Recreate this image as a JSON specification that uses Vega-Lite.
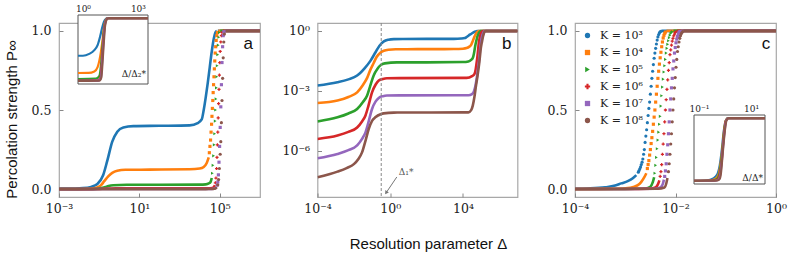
{
"$schema":"https://vega.github.io/schema/vega-lite/v6.json",
"padding":{"left":3,"top":3,"right":3,"bottom":3},
"config":{
 "view":{"stroke":"#a8a8a8","strokeWidth":1.2},
 "scale":{"nice":false,"zero":false},
 "axis":{"labelFont":"DejaVu Serif","labelFontSize":12.5,"labelColor":"#222","tickColor":"#888","tickSize":-4,"tickWidth":1,"domain":false,"grid":false,"labelFlush":false,"labelOverlap":false,"titleFont":"Liberation Sans","titleFontSize":15,"titleFontWeight":"normal","titleColor":"#111"},
 "axisX":{"labelPadding":9},
 "axisY":{"labelPadding":12}
},
"datasets":{
"ab":[
{"k":3,"d":1e-4,"p":0.00186,"s":"l"},{"k":3,"d":1.259e-3,"p":0.0027,"s":"l"},{"k":3,"d":5.012e-3,"p":0.0038,"s":"l"},{"k":3,"d":1.514e-2,"p":0.0059,"s":"l"},{"k":3,"d":3.981e-2,"p":0.014,"s":"l"},{"k":3,"d":8.128e-2,"p":0.032,"s":"l"},{"k":3,"d":0.1585,"p":0.089,"s":"l"},{"k":3,"d":0.2512,"p":0.178,"s":"l"},{"k":3,"d":0.4467,"p":0.30,"s":"l"},{"k":3,"d":0.7943,"p":0.363,"s":"l"},{"k":3,"d":1.585,"p":0.39,"s":"l"},{"k":3,"d":5.012,"p":0.398,"s":"l"},{"k":3,"d":100,"p":0.40,"s":"l"},{"k":3,"d":3162,"p":0.403,"s":"l"},{"k":3,"d":7943,"p":0.417,"s":"l"},{"k":3,"d":12590,"p":0.44,"s":"l"},{"k":3,"d":15850,"p":0.5,"s":"l"},{"k":3,"d":19950,"p":0.58,"s":"l"},{"k":3,"d":25120,"p":0.67,"s":"l"},{"k":3,"d":31620,"p":0.77,"s":"l"},{"k":3,"d":39810,"p":0.87,"s":"l"},{"k":3,"d":50120,"p":0.95,"s":"l"},{"k":3,"d":60260,"p":0.99,"s":"l"},{"k":3,"d":70790,"p":1.0,"s":"l"},{"k":3,"d":79430,"p":1,"s":"h"},{"k":3,"d":1e7,"p":1,"s":"h"},
{"k":4,"d":1e-4,"p":2.5e-4,"s":"l"},{"k":4,"d":1.259e-3,"p":3.3e-4,"s":"l"},{"k":4,"d":5.012e-3,"p":5e-4,"s":"l"},{"k":4,"d":1.514e-2,"p":8.5e-4,"s":"l"},{"k":4,"d":3.162e-2,"p":0.002,"s":"l"},{"k":4,"d":5.370e-2,"p":0.0045,"s":"l"},{"k":4,"d":7.943e-2,"p":0.011,"s":"l"},{"k":4,"d":0.1230,"p":0.025,"s":"l"},{"k":4,"d":0.1778,"p":0.05,"s":"l"},{"k":4,"d":0.2884,"p":0.082,"s":"l"},{"k":4,"d":0.4467,"p":0.103,"s":"l"},{"k":4,"d":0.7943,"p":0.116,"s":"l"},{"k":4,"d":1.995,"p":0.122,"s":"l"},{"k":4,"d":31.62,"p":0.123,"s":"l"},{"k":4,"d":3162,"p":0.125,"s":"l"},{"k":4,"d":10000,"p":0.13,"s":"l"},{"k":4,"d":15850,"p":0.14,"s":"l"},{"k":4,"d":22390,"p":0.165,"s":"l"},{"k":4,"d":28180,"p":0.2,"s":"l"},
{"k":4,"d":30200,"p":0.23,"s":"s"},{"k":4,"d":32360,"p":0.27,"s":"s"},{"k":4,"d":34670,"p":0.31,"s":"s"},{"k":4,"d":36730,"p":0.36,"s":"s"},{"k":4,"d":38900,"p":0.41,"s":"s"},{"k":4,"d":40740,"p":0.46,"s":"s"},{"k":4,"d":42660,"p":0.51,"s":"s"},{"k":4,"d":44670,"p":0.56,"s":"s"},{"k":4,"d":46770,"p":0.61,"s":"s"},{"k":4,"d":48980,"p":0.66,"s":"s"},{"k":4,"d":51290,"p":0.71,"s":"s"},{"k":4,"d":53700,"p":0.76,"s":"s"},{"k":4,"d":56230,"p":0.81,"s":"s"},{"k":4,"d":58880,"p":0.86,"s":"s"},{"k":4,"d":62370,"p":0.9,"s":"s"},{"k":4,"d":66070,"p":0.94,"s":"s"},{"k":4,"d":70790,"p":0.97,"s":"s"},{"k":4,"d":75860,"p":0.99,"s":"s"},
{"k":4,"d":83180,"p":1,"s":"h"},{"k":4,"d":1e7,"p":1,"s":"h"},
{"k":5,"d":1e-4,"p":3e-5,"s":"l"},{"k":5,"d":1.259e-3,"p":4.8e-5,"s":"l"},{"k":5,"d":5.012e-3,"p":7.5e-5,"s":"l"},{"k":5,"d":1.514e-2,"p":1.26e-4,"s":"l"},{"k":5,"d":3.162e-2,"p":2.8e-4,"s":"l"},{"k":5,"d":5.370e-2,"p":6e-4,"s":"l"},{"k":5,"d":7.943e-2,"p":0.0018,"s":"l"},{"k":5,"d":0.1230,"p":0.006,"s":"l"},{"k":5,"d":0.1995,"p":0.013,"s":"l"},{"k":5,"d":0.2884,"p":0.019,"s":"l"},{"k":5,"d":0.5012,"p":0.024,"s":"l"},{"k":5,"d":2.344,"p":0.027,"s":"l"},{"k":5,"d":100,"p":0.027,"s":"l"},{"k":5,"d":10000,"p":0.028,"s":"l"},{"k":5,"d":19950,"p":0.03,"s":"l"},{"k":5,"d":28180,"p":0.036,"s":"l"},{"k":5,"d":34670,"p":0.045,"s":"l"},{"k":5,"d":39810,"p":0.07,"s":"l"},
{"k":5,"d":42660,"p":0.1,"s":"s"},{"k":5,"d":45710,"p":0.15,"s":"s"},{"k":5,"d":48980,"p":0.21,"s":"s"},{"k":5,"d":52480,"p":0.28,"s":"s"},{"k":5,"d":55590,"p":0.35,"s":"s"},{"k":5,"d":58880,"p":0.43,"s":"s"},{"k":5,"d":61660,"p":0.5,"s":"s"},{"k":5,"d":64570,"p":0.57,"s":"s"},{"k":5,"d":67610,"p":0.64,"s":"s"},{"k":5,"d":70790,"p":0.71,"s":"s"},{"k":5,"d":74130,"p":0.78,"s":"s"},{"k":5,"d":78520,"p":0.85,"s":"s"},{"k":5,"d":83180,"p":0.91,"s":"s"},{"k":5,"d":89130,"p":0.96,"s":"s"},{"k":5,"d":95500,"p":0.99,"s":"s"},
{"k":5,"d":104700,"p":1,"s":"h"},{"k":5,"d":1e7,"p":1,"s":"h"},
{"k":6,"d":1e-4,"p":4e-6,"s":"l"},{"k":6,"d":1.259e-3,"p":5.9e-6,"s":"l"},{"k":6,"d":5.012e-3,"p":9e-6,"s":"l"},{"k":6,"d":1.514e-2,"p":1.5e-5,"s":"l"},{"k":6,"d":2.818e-2,"p":3e-5,"s":"l"},{"k":6,"d":4.365e-2,"p":6e-5,"s":"l"},{"k":6,"d":6.310e-2,"p":1.8e-4,"s":"l"},{"k":6,"d":0.1,"p":8.5e-4,"s":"l"},{"k":6,"d":0.1585,"p":0.0021,"s":"l"},{"k":6,"d":0.2344,"p":0.0033,"s":"l"},{"k":6,"d":0.3981,"p":0.004,"s":"l"},{"k":6,"d":0.6607,"p":0.0043,"s":"l"},{"k":6,"d":3.162,"p":0.0044,"s":"l"},{"k":6,"d":15850,"p":0.0045,"s":"l"},{"k":6,"d":31620,"p":0.0055,"s":"l"},{"k":6,"d":42660,"p":0.007,"s":"l"},{"k":6,"d":50120,"p":0.012,"s":"l"},{"k":6,"d":56230,"p":0.025,"s":"l"},
{"k":6,"d":60260,"p":0.04,"s":"s"},{"k":6,"d":64570,"p":0.07,"s":"s"},{"k":6,"d":69180,"p":0.13,"s":"s"},{"k":6,"d":72440,"p":0.2,"s":"s"},{"k":6,"d":75860,"p":0.28,"s":"s"},{"k":6,"d":79430,"p":0.36,"s":"s"},{"k":6,"d":83180,"p":0.45,"s":"s"},{"k":6,"d":87100,"p":0.54,"s":"s"},{"k":6,"d":91200,"p":0.63,"s":"s"},{"k":6,"d":95500,"p":0.72,"s":"s"},{"k":6,"d":100000,"p":0.8,"s":"s"},{"k":6,"d":104700,"p":0.87,"s":"s"},{"k":6,"d":112200,"p":0.93,"s":"s"},{"k":6,"d":120200,"p":0.97,"s":"s"},{"k":6,"d":128800,"p":0.99,"s":"s"},
{"k":6,"d":141300,"p":1,"s":"h"},{"k":6,"d":1e7,"p":1,"s":"h"},
{"k":7,"d":1e-4,"p":4.3e-7,"s":"l"},{"k":7,"d":1.259e-3,"p":7.1e-7,"s":"l"},{"k":7,"d":5.012e-3,"p":1.1e-6,"s":"l"},{"k":7,"d":1.514e-2,"p":1.9e-6,"s":"l"},{"k":7,"d":2.818e-2,"p":4e-6,"s":"l"},{"k":7,"d":4.365e-2,"p":8.5e-6,"s":"l"},{"k":7,"d":6.310e-2,"p":2.7e-5,"s":"l"},{"k":7,"d":0.1,"p":1.26e-4,"s":"l"},{"k":7,"d":0.1585,"p":3e-4,"s":"l"},{"k":7,"d":0.2344,"p":4.5e-4,"s":"l"},{"k":7,"d":0.3981,"p":5.5e-4,"s":"l"},{"k":7,"d":0.6607,"p":5.9e-4,"s":"l"},{"k":7,"d":3.162,"p":6e-4,"s":"l"},{"k":7,"d":19950,"p":6.1e-4,"s":"l"},{"k":7,"d":31620,"p":7e-4,"s":"l"},{"k":7,"d":48980,"p":0.0019,"s":"l"},{"k":7,"d":60260,"p":0.006,"s":"l"},{"k":7,"d":66070,"p":0.012,"s":"l"},
{"k":7,"d":74130,"p":0.025,"s":"s"},{"k":7,"d":79430,"p":0.045,"s":"s"},{"k":7,"d":85110,"p":0.09,"s":"s"},{"k":7,"d":91200,"p":0.17,"s":"s"},{"k":7,"d":97720,"p":0.27,"s":"s"},{"k":7,"d":104700,"p":0.39,"s":"s"},{"k":7,"d":112200,"p":0.52,"s":"s"},{"k":7,"d":120200,"p":0.66,"s":"s"},{"k":7,"d":128800,"p":0.8,"s":"s"},{"k":7,"d":138000,"p":0.9,"s":"s"},{"k":7,"d":147900,"p":0.97,"s":"s"},{"k":7,"d":158500,"p":0.995,"s":"s"},
{"k":7,"d":173800,"p":1,"s":"h"},{"k":7,"d":1e7,"p":1,"s":"h"},
{"k":8,"d":1e-4,"p":4.8e-8,"s":"l"},{"k":8,"d":1.259e-3,"p":9.3e-8,"s":"l"},{"k":8,"d":3.981e-3,"p":1.4e-7,"s":"l"},{"k":8,"d":0.01,"p":2.2e-7,"s":"l"},{"k":8,"d":1.778e-2,"p":4e-7,"s":"l"},{"k":8,"d":2.818e-2,"p":8.5e-7,"s":"l"},{"k":8,"d":4.467e-2,"p":3.5e-6,"s":"l"},{"k":8,"d":6.607e-2,"p":1.26e-5,"s":"l"},{"k":8,"d":0.1,"p":3.2e-5,"s":"l"},{"k":8,"d":0.1514,"p":4.8e-5,"s":"l"},{"k":8,"d":0.3162,"p":7e-5,"s":"l"},{"k":8,"d":0.4365,"p":7.6e-5,"s":"l"},{"k":8,"d":1.549,"p":8.3e-5,"s":"l"},{"k":8,"d":19950,"p":8.5e-5,"s":"l"},{"k":8,"d":28180,"p":1.1e-4,"s":"l"},{"k":8,"d":34670,"p":1.86e-4,"s":"l"},{"k":8,"d":42660,"p":5e-4,"s":"l"},{"k":8,"d":52480,"p":0.0019,"s":"l"},{"k":8,"d":63100,"p":0.0055,"s":"l"},{"k":8,"d":70790,"p":0.012,"s":"l"},
{"k":8,"d":79430,"p":0.027,"s":"s"},{"k":8,"d":87100,"p":0.06,"s":"s"},{"k":8,"d":95500,"p":0.13,"s":"s"},{"k":8,"d":104700,"p":0.22,"s":"s"},{"k":8,"d":112200,"p":0.3,"s":"s"},{"k":8,"d":120200,"p":0.42,"s":"s"},{"k":8,"d":128800,"p":0.56,"s":"s"},{"k":8,"d":138000,"p":0.7,"s":"s"},{"k":8,"d":147900,"p":0.83,"s":"s"},{"k":8,"d":158500,"p":0.93,"s":"s"},{"k":8,"d":169800,"p":0.98,"s":"s"},
{"k":8,"d":186200,"p":1,"s":"h"},{"k":8,"d":1e7,"p":1,"s":"h"}
],
"ai":[
{"k":3,"d":0.537,"p":0.40},{"k":3,"d":1,"p":0.40},{"k":3,"d":2.188,"p":0.43},{"k":3,"d":4.169,"p":0.49},{"k":3,"d":6.310,"p":0.57},{"k":3,"d":8.710,"p":0.71},{"k":3,"d":11.75,"p":0.87},{"k":3,"d":15.85,"p":0.97},{"k":3,"d":22.39,"p":1.0},{"k":3,"d":3548,"p":1.0},
{"k":4,"d":0.537,"p":0.125},{"k":4,"d":1.995,"p":0.127},{"k":4,"d":4.169,"p":0.15},{"k":4,"d":6.310,"p":0.22},{"k":4,"d":8.710,"p":0.39},{"k":4,"d":11.75,"p":0.65},{"k":4,"d":14.45,"p":0.87},{"k":4,"d":19.50,"p":0.99},{"k":4,"d":25.12,"p":1.0},{"k":4,"d":3548,"p":1.0},
{"k":5,"d":0.537,"p":0.03},{"k":5,"d":5.012,"p":0.035},{"k":5,"d":7.943,"p":0.08},{"k":5,"d":10,"p":0.3},{"k":5,"d":12.02,"p":0.6},{"k":5,"d":14.45,"p":0.85},{"k":5,"d":17.78,"p":0.97},{"k":5,"d":22.39,"p":1.0},{"k":5,"d":3548,"p":1},
{"k":6,"d":0.537,"p":0.006},{"k":6,"d":6.310,"p":0.008},{"k":6,"d":8.913,"p":0.05},{"k":6,"d":10.72,"p":0.3},{"k":6,"d":12.59,"p":0.6},{"k":6,"d":14.79,"p":0.85},{"k":6,"d":18.20,"p":0.97},{"k":6,"d":22.91,"p":1.0},{"k":6,"d":3548,"p":1},
{"k":7,"d":0.537,"p":0.002},{"k":7,"d":7.079,"p":0.004},{"k":7,"d":9.550,"p":0.05},{"k":7,"d":11.22,"p":0.3},{"k":7,"d":13.18,"p":0.62},{"k":7,"d":15.49,"p":0.87},{"k":7,"d":19.05,"p":0.98},{"k":7,"d":23.99,"p":1.0},{"k":7,"d":3548,"p":1},
{"k":8,"d":0.537,"p":0},{"k":8,"d":7.943,"p":0.002},{"k":8,"d":10,"p":0.05},{"k":8,"d":11.75,"p":0.3},{"k":8,"d":13.80,"p":0.62},{"k":8,"d":16.22,"p":0.88},{"k":8,"d":19.95,"p":0.98},{"k":8,"d":25.12,"p":1.0},{"k":8,"d":3548,"p":1}
],
"c":[
{"k":3,"d":1e-4,"p":0.002,"s":"l"},{"k":3,"d":1.778e-4,"p":0.004,"s":"l"},{"k":3,"d":3.981e-4,"p":0.011,"s":"l"},{"k":3,"d":6.310e-4,"p":0.022,"s":"l"},{"k":3,"d":8.318e-4,"p":0.036,"s":"l"},{"k":3,"d":1.122e-3,"p":0.05,"s":"l"},{"k":3,"d":1.413e-3,"p":0.068,"s":"l"},{"k":3,"d":1.660e-3,"p":0.088,"s":"l"},
{"k":3,"d":1.820e-3,"p":0.107,"s":"s"},{"k":3,"d":1.884e-3,"p":0.117,"s":"s"},{"k":3,"d":1.950e-3,"p":0.128,"s":"s"},{"k":3,"d":2.018e-3,"p":0.14,"s":"s"},{"k":3,"d":2.089e-3,"p":0.155,"s":"s"},{"k":3,"d":2.163e-3,"p":0.17,"s":"s"},{"k":3,"d":2.239e-3,"p":0.19,"s":"s"},{"k":3,"d":2.317e-3,"p":0.22,"s":"s"},{"k":3,"d":2.399e-3,"p":0.25,"s":"s"},{"k":3,"d":2.483e-3,"p":0.295,"s":"s"},{"k":3,"d":2.570e-3,"p":0.335,"s":"s"},{"k":3,"d":2.661e-3,"p":0.375,"s":"s"},{"k":3,"d":2.754e-3,"p":0.42,"s":"s"},{"k":3,"d":2.851e-3,"p":0.465,"s":"s"},{"k":3,"d":2.951e-3,"p":0.51,"s":"s"},{"k":3,"d":3.055e-3,"p":0.55,"s":"s"},{"k":3,"d":3.162e-3,"p":0.6,"s":"s"},{"k":3,"d":3.273e-3,"p":0.65,"s":"s"},{"k":3,"d":3.388e-3,"p":0.7,"s":"s"},{"k":3,"d":3.508e-3,"p":0.745,"s":"s"},{"k":3,"d":3.631e-3,"p":0.787,"s":"s"},{"k":3,"d":3.758e-3,"p":0.827,"s":"s"},{"k":3,"d":3.890e-3,"p":0.86,"s":"s"},{"k":3,"d":4.027e-3,"p":0.89,"s":"s"},{"k":3,"d":4.169e-3,"p":0.917,"s":"s"},{"k":3,"d":4.315e-3,"p":0.942,"s":"s"},{"k":3,"d":4.467e-3,"p":0.962,"s":"s"},{"k":3,"d":4.624e-3,"p":0.977,"s":"s"},{"k":3,"d":4.786e-3,"p":0.988,"s":"s"},{"k":3,"d":4.955e-3,"p":0.994,"s":"s"},{"k":3,"d":5.129e-3,"p":0.998,"s":"s"},
{"k":3,"d":5.248e-3,"p":1,"s":"h"},{"k":3,"d":1,"p":1,"s":"h"},
{"k":4,"d":1e-4,"p":0.001,"s":"l"},{"k":4,"d":6.310e-4,"p":0.002,"s":"l"},{"k":4,"d":1.259e-3,"p":0.008,"s":"l"},{"k":4,"d":1.778e-3,"p":0.025,"s":"l"},{"k":4,"d":2.089e-3,"p":0.046,"s":"l"},{"k":4,"d":2.399e-3,"p":0.075,"s":"l"},{"k":4,"d":2.630e-3,"p":0.1,"s":"l"},
{"k":4,"d":2.754e-3,"p":0.13,"s":"s"},{"k":4,"d":2.851e-3,"p":0.155,"s":"s"},{"k":4,"d":2.951e-3,"p":0.18,"s":"s"},{"k":4,"d":3.055e-3,"p":0.215,"s":"s"},{"k":4,"d":3.162e-3,"p":0.25,"s":"s"},{"k":4,"d":3.273e-3,"p":0.288,"s":"s"},{"k":4,"d":3.388e-3,"p":0.325,"s":"s"},{"k":4,"d":3.508e-3,"p":0.365,"s":"s"},{"k":4,"d":3.631e-3,"p":0.41,"s":"s"},{"k":4,"d":3.758e-3,"p":0.455,"s":"s"},{"k":4,"d":3.890e-3,"p":0.5,"s":"s"},{"k":4,"d":4.027e-3,"p":0.55,"s":"s"},{"k":4,"d":4.169e-3,"p":0.6,"s":"s"},{"k":4,"d":4.315e-3,"p":0.65,"s":"s"},{"k":4,"d":4.467e-3,"p":0.7,"s":"s"},{"k":4,"d":4.624e-3,"p":0.745,"s":"s"},{"k":4,"d":4.786e-3,"p":0.79,"s":"s"},{"k":4,"d":4.955e-3,"p":0.83,"s":"s"},{"k":4,"d":5.129e-3,"p":0.865,"s":"s"},{"k":4,"d":5.309e-3,"p":0.9,"s":"s"},{"k":4,"d":5.495e-3,"p":0.93,"s":"s"},{"k":4,"d":5.689e-3,"p":0.955,"s":"s"},{"k":4,"d":5.888e-3,"p":0.972,"s":"s"},{"k":4,"d":6.095e-3,"p":0.985,"s":"s"},{"k":4,"d":6.310e-3,"p":0.993,"s":"s"},
{"k":4,"d":6.607e-3,"p":1,"s":"h"},{"k":4,"d":1,"p":1,"s":"h"},
{"k":5,"d":1e-4,"p":0.001,"s":"l"},{"k":5,"d":1e-3,"p":0.001,"s":"l"},{"k":5,"d":2.512e-3,"p":0.004,"s":"l"},{"k":5,"d":3.162e-3,"p":0.015,"s":"l"},{"k":5,"d":3.548e-3,"p":0.045,"s":"l"},{"k":5,"d":3.758e-3,"p":0.075,"s":"l"},
{"k":5,"d":3.890e-3,"p":0.1,"s":"s"},{"k":5,"d":4.027e-3,"p":0.15,"s":"s"},{"k":5,"d":4.169e-3,"p":0.2,"s":"s"},{"k":5,"d":4.315e-3,"p":0.255,"s":"s"},{"k":5,"d":4.467e-3,"p":0.31,"s":"s"},{"k":5,"d":4.624e-3,"p":0.36,"s":"s"},{"k":5,"d":4.786e-3,"p":0.41,"s":"s"},{"k":5,"d":4.955e-3,"p":0.46,"s":"s"},{"k":5,"d":5.129e-3,"p":0.525,"s":"s"},{"k":5,"d":5.309e-3,"p":0.59,"s":"s"},{"k":5,"d":5.495e-3,"p":0.645,"s":"s"},{"k":5,"d":5.689e-3,"p":0.695,"s":"s"},{"k":5,"d":5.888e-3,"p":0.74,"s":"s"},{"k":5,"d":6.095e-3,"p":0.78,"s":"s"},{"k":5,"d":6.310e-3,"p":0.82,"s":"s"},{"k":5,"d":6.531e-3,"p":0.86,"s":"s"},{"k":5,"d":6.761e-3,"p":0.89,"s":"s"},{"k":5,"d":6.998e-3,"p":0.915,"s":"s"},{"k":5,"d":7.244e-3,"p":0.938,"s":"s"},{"k":5,"d":7.499e-3,"p":0.957,"s":"s"},{"k":5,"d":7.762e-3,"p":0.972,"s":"s"},{"k":5,"d":8.035e-3,"p":0.983,"s":"s"},{"k":5,"d":8.318e-3,"p":0.99,"s":"s"},{"k":5,"d":8.610e-3,"p":0.995,"s":"s"},
{"k":5,"d":9.120e-3,"p":1,"s":"h"},{"k":5,"d":1,"p":1,"s":"h"},
{"k":6,"d":1e-4,"p":0.0005,"s":"l"},{"k":6,"d":1e-3,"p":0.001,"s":"l"},{"k":6,"d":3.162e-3,"p":0.003,"s":"l"},{"k":6,"d":3.981e-3,"p":0.01,"s":"l"},{"k":6,"d":4.467e-3,"p":0.03,"s":"l"},{"k":6,"d":4.786e-3,"p":0.055,"s":"l"},
{"k":6,"d":4.955e-3,"p":0.08,"s":"s"},{"k":6,"d":5.129e-3,"p":0.11,"s":"s"},{"k":6,"d":5.309e-3,"p":0.155,"s":"s"},{"k":6,"d":5.495e-3,"p":0.22,"s":"s"},{"k":6,"d":5.689e-3,"p":0.285,"s":"s"},{"k":6,"d":5.888e-3,"p":0.35,"s":"s"},{"k":6,"d":6.095e-3,"p":0.425,"s":"s"},{"k":6,"d":6.310e-3,"p":0.5,"s":"s"},{"k":6,"d":6.531e-3,"p":0.565,"s":"s"},{"k":6,"d":6.761e-3,"p":0.63,"s":"s"},{"k":6,"d":6.998e-3,"p":0.69,"s":"s"},{"k":6,"d":7.244e-3,"p":0.75,"s":"s"},{"k":6,"d":7.499e-3,"p":0.8,"s":"s"},{"k":6,"d":7.762e-3,"p":0.85,"s":"s"},{"k":6,"d":8.035e-3,"p":0.88,"s":"s"},{"k":6,"d":8.318e-3,"p":0.91,"s":"s"},{"k":6,"d":8.610e-3,"p":0.935,"s":"s"},{"k":6,"d":8.913e-3,"p":0.953,"s":"s"},{"k":6,"d":9.226e-3,"p":0.968,"s":"s"},{"k":6,"d":9.550e-3,"p":0.98,"s":"s"},{"k":6,"d":9.886e-3,"p":0.99,"s":"s"},{"k":6,"d":1.023e-2,"p":0.996,"s":"s"},
{"k":6,"d":1.072e-2,"p":1,"s":"h"},{"k":6,"d":1,"p":1,"s":"h"},
{"k":7,"d":1e-4,"p":0.0002,"s":"l"},{"k":7,"d":1e-3,"p":0.0005,"s":"l"},{"k":7,"d":3.981e-3,"p":0.002,"s":"l"},{"k":7,"d":5.012e-3,"p":0.01,"s":"l"},{"k":7,"d":5.623e-3,"p":0.035,"s":"l"},{"k":7,"d":5.888e-3,"p":0.06,"s":"l"},
{"k":7,"d":6.095e-3,"p":0.08,"s":"s"},{"k":7,"d":6.310e-3,"p":0.115,"s":"s"},{"k":7,"d":6.531e-3,"p":0.16,"s":"s"},{"k":7,"d":6.761e-3,"p":0.22,"s":"s"},{"k":7,"d":6.998e-3,"p":0.28,"s":"s"},{"k":7,"d":7.244e-3,"p":0.35,"s":"s"},{"k":7,"d":7.499e-3,"p":0.425,"s":"s"},{"k":7,"d":7.762e-3,"p":0.5,"s":"s"},{"k":7,"d":8.035e-3,"p":0.57,"s":"s"},{"k":7,"d":8.318e-3,"p":0.64,"s":"s"},{"k":7,"d":8.610e-3,"p":0.7,"s":"s"},{"k":7,"d":8.913e-3,"p":0.76,"s":"s"},{"k":7,"d":9.226e-3,"p":0.81,"s":"s"},{"k":7,"d":9.550e-3,"p":0.86,"s":"s"},{"k":7,"d":9.886e-3,"p":0.895,"s":"s"},{"k":7,"d":1.023e-2,"p":0.925,"s":"s"},{"k":7,"d":1.059e-2,"p":0.948,"s":"s"},{"k":7,"d":1.096e-2,"p":0.965,"s":"s"},{"k":7,"d":1.135e-2,"p":0.98,"s":"s"},{"k":7,"d":1.175e-2,"p":0.99,"s":"s"},{"k":7,"d":1.216e-2,"p":0.996,"s":"s"},
{"k":7,"d":1.259e-2,"p":1,"s":"h"},{"k":7,"d":1,"p":1,"s":"h"},
{"k":8,"d":1e-4,"p":0.0001,"s":"l"},{"k":8,"d":1e-3,"p":0.0003,"s":"l"},{"k":8,"d":4.467e-3,"p":0.002,"s":"l"},{"k":8,"d":6.026e-3,"p":0.01,"s":"l"},{"k":8,"d":6.607e-3,"p":0.04,"s":"l"},{"k":8,"d":6.918e-3,"p":0.07,"s":"l"},
{"k":8,"d":7.244e-3,"p":0.11,"s":"s"},{"k":8,"d":7.499e-3,"p":0.16,"s":"s"},{"k":8,"d":7.762e-3,"p":0.22,"s":"s"},{"k":8,"d":8.035e-3,"p":0.285,"s":"s"},{"k":8,"d":8.318e-3,"p":0.35,"s":"s"},{"k":8,"d":8.610e-3,"p":0.425,"s":"s"},{"k":8,"d":8.913e-3,"p":0.5,"s":"s"},{"k":8,"d":9.226e-3,"p":0.57,"s":"s"},{"k":8,"d":9.550e-3,"p":0.64,"s":"s"},{"k":8,"d":9.886e-3,"p":0.705,"s":"s"},{"k":8,"d":1.023e-2,"p":0.77,"s":"s"},{"k":8,"d":1.059e-2,"p":0.82,"s":"s"},{"k":8,"d":1.096e-2,"p":0.87,"s":"s"},{"k":8,"d":1.135e-2,"p":0.9,"s":"s"},{"k":8,"d":1.175e-2,"p":0.93,"s":"s"},{"k":8,"d":1.216e-2,"p":0.953,"s":"s"},{"k":8,"d":1.259e-2,"p":0.97,"s":"s"},{"k":8,"d":1.303e-2,"p":0.982,"s":"s"},{"k":8,"d":1.349e-2,"p":0.99,"s":"s"},{"k":8,"d":1.396e-2,"p":0.996,"s":"s"},
{"k":8,"d":1.445e-2,"p":1,"s":"h"},{"k":8,"d":1,"p":1,"s":"h"}
],
"ci":[
{"k":3,"d":0.06457,"p":0.002},{"k":3,"d":0.1995,"p":0.01},{"k":3,"d":0.3548,"p":0.04},{"k":3,"d":0.5012,"p":0.1},{"k":3,"d":0.631,"p":0.25},{"k":3,"d":0.7586,"p":0.5},{"k":3,"d":0.8913,"p":0.78},{"k":3,"d":1.047,"p":0.95},{"k":3,"d":1.202,"p":0.99},{"k":3,"d":1.318,"p":1.0},{"k":3,"d":34.67,"p":1.0},
{"k":4,"d":0.06457,"p":0.001},{"k":4,"d":0.2512,"p":0.006},{"k":4,"d":0.4169,"p":0.03},{"k":4,"d":0.5623,"p":0.1},{"k":4,"d":0.6761,"p":0.27},{"k":4,"d":0.7943,"p":0.52},{"k":4,"d":0.912,"p":0.78},{"k":4,"d":1.047,"p":0.95},{"k":4,"d":1.202,"p":0.99},{"k":4,"d":1.318,"p":1.0},{"k":4,"d":34.67,"p":1},
{"k":5,"d":0.06457,"p":0.001},{"k":5,"d":0.3162,"p":0.004},{"k":5,"d":0.4786,"p":0.025},{"k":5,"d":0.6026,"p":0.1},{"k":5,"d":0.7079,"p":0.28},{"k":5,"d":0.8128,"p":0.53},{"k":5,"d":0.9333,"p":0.79},{"k":5,"d":1.072,"p":0.95},{"k":5,"d":1.202,"p":0.99},{"k":5,"d":1.318,"p":1},{"k":5,"d":34.67,"p":1},
{"k":6,"d":0.06457,"p":0},{"k":6,"d":0.3548,"p":0.003},{"k":6,"d":0.5248,"p":0.02},{"k":6,"d":0.631,"p":0.1},{"k":6,"d":0.7413,"p":0.3},{"k":6,"d":0.8318,"p":0.54},{"k":6,"d":0.955,"p":0.8},{"k":6,"d":1.072,"p":0.95},{"k":6,"d":1.23,"p":0.99},{"k":6,"d":1.349,"p":1},{"k":6,"d":34.67,"p":1},
{"k":7,"d":0.06457,"p":0},{"k":7,"d":0.3981,"p":0.002},{"k":7,"d":0.5623,"p":0.02},{"k":7,"d":0.6607,"p":0.1},{"k":7,"d":0.7586,"p":0.31},{"k":7,"d":0.8511,"p":0.55},{"k":7,"d":0.9772,"p":0.8},{"k":7,"d":1.096,"p":0.95},{"k":7,"d":1.23,"p":0.99},{"k":7,"d":1.349,"p":1},{"k":7,"d":34.67,"p":1},
{"k":8,"d":0.06457,"p":0},{"k":8,"d":0.4467,"p":0.002},{"k":8,"d":0.6026,"p":0.02},{"k":8,"d":0.6918,"p":0.1},{"k":8,"d":0.7762,"p":0.32},{"k":8,"d":0.871,"p":0.56},{"k":8,"d":1,"p":0.81},{"k":8,"d":1.122,"p":0.95},{"k":8,"d":1.259,"p":0.99},{"k":8,"d":1.38,"p":1},{"k":8,"d":34.67,"p":1}
]
},
"hconcat":[
{
 "width":201,"height":174,
 "layer":[
  {"data":{"name":"ab"},
   "layer":[
    {"transform":[{"filter":"datum.s !== 's'"}],
     "mark":{"type":"line","clip":true,"strokeWidth":2.6,"interpolate":"monotone"},
     "encoding":{
      "x":{"field":"d","type":"quantitative","scale":{"type":"log","domain":[0.001,1e7],"nice":false},"axis":{"values":[0.001,10,100000],"labelExpr":"'10' + (datum.value < 1 ? '⁻' : '') + ['⁰','¹','²','³','⁴','⁵','⁶','⁷','⁸','⁹'][abs(round(log(datum.value) / LN10))]","title":null}},
      "y":{"field":"p","type":"quantitative","scale":{"domain":[-0.05,1.05],"nice":false},"axis":{"values":[0,0.5,1],"format":".1f","title":"Percolation strength P∞","titleX":-48,"titleY":96,"titleAngle":-90,"titleAlign":"center","titleBaseline":"middle"}},
      "color":{"field":"k","type":"nominal","scale":{"domain":[3,4,5,6,7,8],"range":["#1f77b4","#ff7f0e","#2ca02c","#d62728","#9467bd","#8c564b"]},"legend":null},
      "detail":{"field":"s"}}},
    {"transform":[{"filter":"datum.s === 's'"}],
     "mark":{"type":"point","filled":true,"size":10,"opacity":1,"clip":true},
     "encoding":{
      "x":{"field":"d","type":"quantitative","scale":{"nice":false}},
      "y":{"field":"p","type":"quantitative","scale":{"nice":false}},
      "color":{"field":"k","type":"nominal","legend":null},
      "shape":{"field":"k","type":"nominal","scale":{"domain":[3,4,5,6,7,8],"range":["circle","square","triangle-right","cross","square","circle"]},"legend":null}}},
    {"data":{"values":[{}]},
     "mark":{"type":"text","font":"Liberation Sans","fontSize":17,"color":"#111","align":"center","baseline":"middle"},
     "encoding":{"x":{"datum":2.57e6},"y":{"datum":0.92},"text":{"value":"a"}}}
   ]},
  {"layer":[
    {"data":{"values":[{}]},
     "mark":{"type":"rect","fill":"white","stroke":"#555","strokeWidth":1},
     "encoding":{
      "x":{"datum":0.537,"type":"quantitative","scale":{"type":"log","domain":[0.537,3548],"range":[19,89],"nice":false},"axis":{"orient":"top","values":[1,1000],"labelExpr":"'10' + (datum.value < 1 ? '⁻' : '') + ['⁰','¹','²','³','⁴','⁵','⁶','⁷','⁸','⁹'][abs(round(log(datum.value) / LN10))]","labelFontSize":9,"offset":8,"tickSize":-3,"labelPadding":5,"title":null}},
      "x2":{"datum":3548},
      "y":{"datum":-0.05,"type":"quantitative","scale":{"domain":[-0.05,1.05],"range":[61,-8],"nice":false},"axis":null},
      "y2":{"datum":1.05}}},
    {"data":{"name":"ai"},
     "mark":{"type":"line","strokeWidth":2.2,"interpolate":"monotone"},
     "encoding":{
      "x":{"field":"d","type":"quantitative","scale":{"nice":false}},
      "y":{"field":"p","type":"quantitative","scale":{"nice":false}},
      "color":{"field":"k","type":"nominal","legend":null}}},
    {"data":{"values":[{}]},
     "mark":{"type":"text","font":"DejaVu Serif","fontSize":9,"align":"right","baseline":"middle","color":"#222"},
     "encoding":{"x":{"datum":2750},"y":{"datum":0.11},"text":{"value":"Δ/Δ₂*"}}}
  ]}
 ],
 "resolve":{"scale":{"x":"independent","y":"independent"},"axis":{"x":"independent","y":"independent"}}
},
{
 "width":200,"height":174,
 "layer":[
  {"data":{"name":"ab"},
   "mark":{"type":"line","clip":true,"strokeWidth":2.6,"interpolate":"monotone"},
   "encoding":{
    "x":{"field":"d","type":"quantitative","scale":{"type":"log","domain":[1e-4,1e7],"nice":false},"axis":{"values":[1e-4,1,10000],"labelExpr":"'10' + (datum.value < 1 ? '⁻' : '') + ['⁰','¹','²','³','⁴','⁵','⁶','⁷','⁸','⁹'][abs(round(log(datum.value) / LN10))]","title":"Resolution parameter Δ","titleX":110.5,"titleY":46,"titleAlign":"center","titleBaseline":"middle"}},
    "y":{"field":"p","type":"quantitative","scale":{"type":"log","domain":[5e-9,2.5],"nice":false},"axis":{"values":[1,0.001,1e-6],"labelExpr":"'10' + (datum.value < 1 ? '⁻' : '') + ['⁰','¹','²','³','⁴','⁵','⁶','⁷','⁸','⁹'][abs(round(log(datum.value) / LN10))]","title":null}},
    "color":{"field":"k","type":"nominal","scale":{"domain":[3,4,5,6,7,8],"range":["#1f77b4","#ff7f0e","#2ca02c","#d62728","#9467bd","#8c564b"]},"legend":null}}},
  {"data":{"values":[{}]},
   "mark":{"type":"rule","strokeDash":[3,2],"color":"#888","strokeWidth":1},
   "encoding":{"x":{"datum":0.32}}},
  {"data":{"values":[{}]},
   "mark":{"type":"rule","color":"#777","strokeWidth":1},
   "encoding":{"x":{"datum":2.3},"y":{"datum":5e-8},"x2":{"datum":0.62},"y2":{"datum":8.6e-9}}},
  {"data":{"values":[{}]},
   "mark":{"type":"point","shape":"triangle","filled":true,"size":18,"angle":213,"color":"#777","opacity":1},
   "encoding":{"x":{"datum":0.62},"y":{"datum":8.6e-9}}},
  {"data":{"values":[{}]},
   "mark":{"type":"text","font":"DejaVu Serif","fontSize":9,"align":"left","baseline":"middle","color":"#555"},
   "encoding":{"x":{"datum":2.96},"y":{"datum":8.9e-8},"text":{"value":"Δ₁*"}}},
  {"data":{"values":[{}]},
   "mark":{"type":"text","font":"Liberation Sans","fontSize":17,"color":"#111","align":"center","baseline":"middle"},
   "encoding":{"x":{"datum":2.57e6},"y":{"datum":0.224},"text":{"value":"b"}}}
 ]
},
{
 "width":201,"height":174,
 "layer":[
  {"data":{"name":"c"},
   "layer":[
    {"transform":[{"filter":"datum.s !== 's'"}],
     "mark":{"type":"line","clip":true,"strokeWidth":2.6,"interpolate":"monotone"},
     "encoding":{
      "x":{"field":"d","type":"quantitative","scale":{"type":"log","domain":[1e-4,1],"nice":false},"axis":{"values":[1e-4,0.01,1],"labelExpr":"'10' + (datum.value < 1 ? '⁻' : '') + ['⁰','¹','²','³','⁴','⁵','⁶','⁷','⁸','⁹'][abs(round(log(datum.value) / LN10))]","title":null}},
      "y":{"field":"p","type":"quantitative","scale":{"domain":[-0.05,1.05],"nice":false},"axis":{"values":[0,0.5,1],"format":".1f","title":null}},
      "color":{"field":"k","type":"nominal","scale":{"domain":[3,4,5,6,7,8],"range":["#1f77b4","#ff7f0e","#2ca02c","#d62728","#9467bd","#8c564b"]}},
      "detail":{"field":"s"}}},
    {"transform":[{"filter":"datum.s === 's'"}],
     "mark":{"type":"point","filled":true,"size":10,"opacity":1,"clip":true},
     "encoding":{
      "x":{"field":"d","type":"quantitative","scale":{"nice":false}},
      "y":{"field":"p","type":"quantitative","scale":{"nice":false}},
      "color":{"field":"k","type":"nominal","legend":{"orient":"top-left","offset":7,"title":null,"padding":0,"labelExpr":"'K = 10' + ['³','⁴','⁵','⁶','⁷','⁸'][datum.value - 3]","labelFont":"DejaVu Serif","labelFontSize":11,"labelColor":"#222","symbolSize":28,"rowPadding":5,"labelOffset":7,"symbolStrokeWidth":0}},
      "shape":{"field":"k","type":"nominal","scale":{"domain":[3,4,5,6,7,8],"range":["circle","square","triangle-right","cross","square","circle"]},"legend":{"orient":"top-left","offset":7,"title":null,"padding":0,"labelExpr":"'K = 10' + ['³','⁴','⁵','⁶','⁷','⁸'][datum.value - 3]","labelFont":"DejaVu Serif","labelFontSize":11,"labelColor":"#222","symbolSize":28,"rowPadding":5,"labelOffset":7,"symbolStrokeWidth":0}}}},
    {"data":{"values":[{}]},
     "mark":{"type":"text","font":"Liberation Sans","fontSize":17,"color":"#111","align":"center","baseline":"middle"},
     "encoding":{"x":{"datum":0.63},"y":{"datum":0.917},"text":{"value":"c"}}}
   ]},
  {"layer":[
    {"data":{"values":[{}]},
     "mark":{"type":"rect","fill":"white","stroke":"#555","strokeWidth":1},
     "encoding":{
      "x":{"datum":0.06457,"type":"quantitative","scale":{"type":"log","domain":[0.06457,34.67],"range":[119,190],"nice":false},"axis":{"orient":"top","values":[0.1,10],"labelExpr":"'10' + (datum.value < 1 ? '⁻' : '') + ['⁰','¹','²','³','⁴','⁵','⁶','⁷','⁸','⁹'][abs(round(log(datum.value) / LN10))]","labelFontSize":9,"offset":-92,"tickSize":-3,"labelPadding":5,"title":null}},
      "x2":{"datum":34.67},
      "y":{"datum":-0.05,"type":"quantitative","scale":{"domain":[-0.05,1.05],"range":[161,92],"nice":false},"axis":null},
      "y2":{"datum":1.05}}},
    {"data":{"name":"ci"},
     "mark":{"type":"line","strokeWidth":2.2,"interpolate":"monotone"},
     "encoding":{
      "x":{"field":"d","type":"quantitative","scale":{"nice":false}},
      "y":{"field":"p","type":"quantitative","scale":{"nice":false}},
      "color":{"field":"k","type":"nominal"}}},
    {"data":{"values":[{}]},
     "mark":{"type":"text","font":"DejaVu Serif","fontSize":9,"align":"right","baseline":"middle","color":"#222"},
     "encoding":{"x":{"datum":28.8},"y":{"datum":0.05},"text":{"value":"Δ/Δ*"}}}
  ]}
 ],
 "resolve":{"scale":{"x":"independent","y":"independent"},"axis":{"x":"independent","y":"independent"}}
}
],
"spacing":57.5,
"bounds":"flush",
"resolve":{"scale":{"color":"independent","shape":"independent"}}
}
